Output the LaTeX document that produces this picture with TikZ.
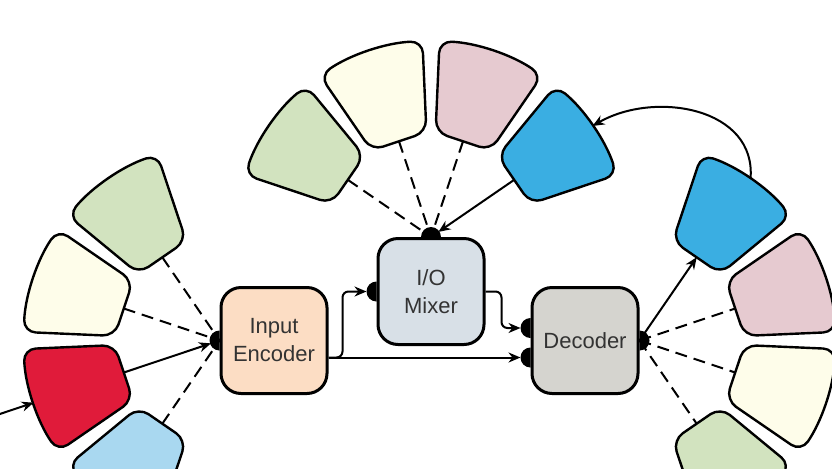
\documentclass[tikz,border=0pt]{standalone}
\usepackage{fontspec}
\setmainfont{Liberation Sans}
\usetikzlibrary{arrows.meta,calc,positioning}
\definecolor{fgreen}{HTML}{D2E3BF}
\definecolor{fcream}{HTML}{FEFDEA}
\definecolor{fpink}{HTML}{E6CAD0}
\definecolor{fblue}{HTML}{3AAEE2}
\definecolor{fred}{HTML}{E01B3A}
\definecolor{flblue}{HTML}{A9D8F0}
\definecolor{encfill}{HTML}{FCDDC4}
\definecolor{mixfill}{HTML}{D8E0E7}
\definecolor{decfill}{HTML}{D5D4CF}

\begin{document}
\begin{tikzpicture}[x=0.5pt,y=0.5pt,>={Stealth[length=6pt,width=5pt]},
    font=\fontsize{11}{14}\selectfont,
    box/.style={draw,line width=1.5pt,rounded corners=10pt,minimum width=53pt,minimum height=53pt,align=center,text=black!80,inner sep=1pt},
    piece/.style={draw,line width=1.2pt,rounded corners=6pt},
    feed/.style={dash pattern=on 6pt off 3.5pt,line width=1pt},
    conn/.style={->,line width=1pt}]
  \path[use as bounding box,fill=white] (0,0) rectangle (832,-468);
  \clip (0,0) rectangle (832,-468);

  % blocks
  \node[box,fill=encfill] (enc) at (274,-340.5) {Input\\Encoder};
  \node[box,fill=decfill,right=101pt of enc] (dec) {Decoder};
  \node[box,fill=mixfill] (mix) at ($(enc)!0.5!(dec)+(1.5,49)$) {I/O\\Mixer};

  % fans of pieces round each hub
  \foreach \a/\col/\nm in {124.5/fgreen/la,161.5/fcream/lb,198.5/fred/lc,235.5/flblue/ld}{
    \draw[piece,fill=\col] ($(enc.west)+(\a-16:105)$) -- ($(enc.west)+(\a+16:105)$) -- ($(enc.west)+(\a+16:196)$) arc[start angle=\a+16,end angle=\a-16,radius=196] -- cycle;
    \coordinate (\nm-in) at ($(enc.west)+(\a:101)$);
    \coordinate (\nm-out) at ($(enc.west)+(\a:196)$);
  }
  \foreach \a/\col/\nm in {145.5/fgreen/ta,108.5/fcream/tb,71.5/fpink/tc,34.5/fblue/td}{
    \draw[piece,fill=\col] ($(mix.north)+(\a-16:105)$) -- ($(mix.north)+(\a+16:105)$) -- ($(mix.north)+(\a+16:196)$) arc[start angle=\a+16,end angle=\a-16,radius=196] -- cycle;
    \coordinate (\nm-in) at ($(mix.north)+(\a:101)$);
    \coordinate (\nm-out) at ($(mix.north)+(\a:196)$);
  }
  \foreach \a/\col/\nm in {55.5/fblue/ra,18.5/fpink/rb,-18.5/fcream/rc,-55.5/fgreen/rd}{
    \draw[piece,fill=\col] ($(dec.east)+(\a-16:105)$) -- ($(dec.east)+(\a+16:105)$) -- ($(dec.east)+(\a+16:196)$) arc[start angle=\a+16,end angle=\a-16,radius=196] -- cycle;
    \coordinate (\nm-in) at ($(dec.east)+(\a:101)$);
    \coordinate (\nm-out) at ($(dec.east)+(\a:196)$);
  }

  % links to the hubs
  \foreach \nm in {la,lb,ld} \draw[feed] (\nm-in) -- (enc.west);
  \foreach \nm in {ta,tb,tc} \draw[feed] (\nm-in) -- (mix.north);
  \foreach \nm in {rb,rc,rd} \draw[feed] (dec.east) -- (\nm-in);
  \draw[conn,shorten >=4.5pt] (lc-in) -- (enc.west);
  \draw[conn,shorten >=4.5pt] (td-in) -- (mix.north);
  \draw[conn] (dec.east) -- (ra-in);
  \coordinate (src) at ($(enc.west)+(198.5:232)$);
  \draw[conn] (src) -- (lc-out);
  \draw[conn] (ra-out) to[out=85,in=30,looseness=1.1] (td-out);

  % block to block
  \coordinate (eout) at ($(enc.east)+(0,-17)$);
  \coordinate (din1) at ($(dec.west)+(0,12.5)$);
  \coordinate (din2) at ($(dec.west)+(0,-17)$);
  \draw[conn,rounded corners=3pt,shorten >=5pt] (eout) -- ++(14,0) |- (mix.west);
  \draw[conn,shorten >=5pt] (eout) -- (din2);
  \draw[conn,rounded corners=3pt,shorten >=5pt] (mix.east) -- ++(16,0) |- (din1);

  % hub dots
  \foreach \p/\d in {enc.west/180,mix.north/90,mix.west/180,din1/180,din2/180,dec.east/0}
    \fill (\p) ++(\d+90:10) arc[start angle=\d+90,end angle=\d-90,radius=10] -- cycle;
\end{tikzpicture}
\end{document}
